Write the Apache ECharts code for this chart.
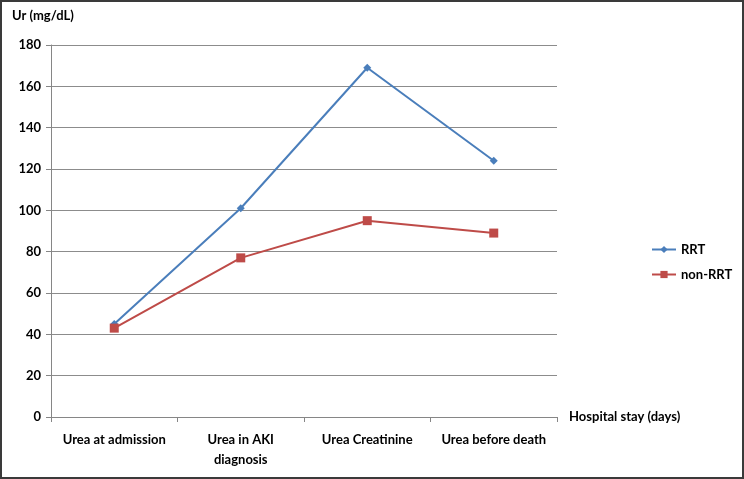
<!DOCTYPE html>
<html>
<head>
<meta charset="utf-8">
<script src="https://cdn.jsdelivr.net/npm/echarts@6/dist/echarts.min.js"></script>
<style>
html,body{margin:0;padding:0;background:#fff;}
#c{width:744px;height:479px;box-sizing:border-box;border:2px solid #3a3a3a;}
</style>
</head>
<body>
<div id="c"></div>
<script>
const categories = ['Urea at admission', 'Urea in AKI\ndiagnosis', 'Urea Creatinine', 'Urea before death'];
const rrt = [45, 101, 169, 124];
const nonRrt = [43, 77, 95, 89];
const yTicks = [0, 20, 40, 60, 80, 100, 120, 140, 160, 180];

const FONT = 'Lato';
const FS = 13;
const chart = echarts.init(document.getElementById('c'), null, {renderer: 'canvas'});
chart.setOption({
  animation: false,
  backgroundColor: '#fff',
  textStyle: {fontFamily: FONT},
  grid: {left: 49, right: 185, top: 43, bottom: 60, containLabel: false},
  graphic: [{
    type: 'text', left: 10, top: 7,
    style: {text: 'Ur (mg/dL)', font: 'bold ' + FS + 'px ' + FONT, fill: '#000'}
  }],
  legend: {
    orient: 'vertical', left: 644, top: 236,
    itemWidth: 24, itemHeight: 9, itemGap: 12,
    textStyle: {fontFamily: FONT, fontWeight: 'bold', fontSize: FS, color: '#000'},
    data: ['RRT', 'non-RRT']
  },
  xAxis: {
    type: 'category', data: categories, boundaryGap: true,
    name: 'Hospital stay (days)', nameLocation: 'end', nameGap: 12,
    nameTextStyle: {fontFamily: FONT, fontWeight: 'bold', fontSize: FS, color: '#000', verticalAlign: 'middle'},
    axisLine: {lineStyle: {color: '#868686', width: 1}},
    axisTick: {show: true, length: 5, alignWithLabel: false, lineStyle: {color: '#868686'}},
    axisLabel: {fontFamily: FONT, fontWeight: 'bold', fontSize: FS, color: '#000', margin: 13, lineHeight: 20, interval: 0}
  },
  yAxis: {
    type: 'value', min: yTicks[0], max: yTicks[yTicks.length - 1], interval: 20,
    axisLine: {show: true, lineStyle: {color: '#868686', width: 1}},
    axisTick: {show: true, length: 5, lineStyle: {color: '#868686'}},
    axisLabel: {fontFamily: FONT, fontWeight: 'bold', fontSize: FS, color: '#000', margin: 10},
    splitLine: {show: true, lineStyle: {color: '#8c8c8c', width: 1}}
  },
  series: [{
    name: 'RRT', type: 'line', data: rrt,
    symbol: 'diamond', symbolSize: 8,
    lineStyle: {color: '#4A7EBB', width: 2},
    itemStyle: {color: '#4A7EBB'}
  }, {
    name: 'non-RRT', type: 'line', data: nonRrt,
    symbol: 'rect', symbolSize: 9,
    lineStyle: {color: '#BE4B48', width: 2},
    itemStyle: {color: '#BE4B48'}
  }]
});
</script>
</body>
</html>
